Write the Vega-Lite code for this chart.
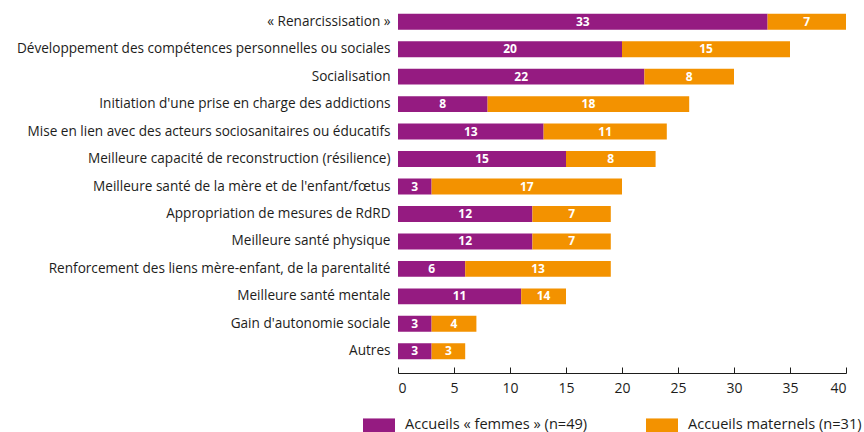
{
  "$schema": "https://vega.github.io/schema/vega-lite/v6.json",
  "autosize": "none",
  "width": 448,
  "height": 357,
  "padding": {"left": 398, "top": 8, "right": 18, "bottom": 67},
  "background": "white",
  "config": {"view": {"stroke": null}, "font": "Open Sans"},
  "data": {"values": [
    {"cat": "« Renarcissisation »", "type": "Accueils « femmes » (n=49)", "value": 33, "label": "33"},
    {"cat": "« Renarcissisation »", "type": "Accueils maternels (n=31)", "value": 7, "label": "7"},
    {"cat": "Développement des compétences personnelles ou sociales", "type": "Accueils « femmes » (n=49)", "value": 20, "label": "20"},
    {"cat": "Développement des compétences personnelles ou sociales", "type": "Accueils maternels (n=31)", "value": 15, "label": "15"},
    {"cat": "Socialisation", "type": "Accueils « femmes » (n=49)", "value": 22, "label": "22"},
    {"cat": "Socialisation", "type": "Accueils maternels (n=31)", "value": 8, "label": "8"},
    {"cat": "Initiation d'une prise en charge des addictions", "type": "Accueils « femmes » (n=49)", "value": 8, "label": "8"},
    {"cat": "Initiation d'une prise en charge des addictions", "type": "Accueils maternels (n=31)", "value": 18, "label": "18"},
    {"cat": "Mise en lien avec des acteurs sociosanitaires ou éducatifs", "type": "Accueils « femmes » (n=49)", "value": 13, "label": "13"},
    {"cat": "Mise en lien avec des acteurs sociosanitaires ou éducatifs", "type": "Accueils maternels (n=31)", "value": 11, "label": "11"},
    {"cat": "Meilleure capacité de reconstruction (résilience)", "type": "Accueils « femmes » (n=49)", "value": 15, "label": "15"},
    {"cat": "Meilleure capacité de reconstruction (résilience)", "type": "Accueils maternels (n=31)", "value": 8, "label": "8"},
    {"cat": "Meilleure santé de la mère et de l'enfant/fœtus", "type": "Accueils « femmes » (n=49)", "value": 3, "label": "3"},
    {"cat": "Meilleure santé de la mère et de l'enfant/fœtus", "type": "Accueils maternels (n=31)", "value": 17, "label": "17"},
    {"cat": "Appropriation de mesures de RdRD", "type": "Accueils « femmes » (n=49)", "value": 12, "label": "12"},
    {"cat": "Appropriation de mesures de RdRD", "type": "Accueils maternels (n=31)", "value": 7, "label": "7"},
    {"cat": "Meilleure santé physique", "type": "Accueils « femmes » (n=49)", "value": 12, "label": "12"},
    {"cat": "Meilleure santé physique", "type": "Accueils maternels (n=31)", "value": 7, "label": "7"},
    {"cat": "Renforcement des liens mère-enfant, de la parentalité", "type": "Accueils « femmes » (n=49)", "value": 6, "label": "6"},
    {"cat": "Renforcement des liens mère-enfant, de la parentalité", "type": "Accueils maternels (n=31)", "value": 13, "label": "13"},
    {"cat": "Meilleure santé mentale", "type": "Accueils « femmes » (n=49)", "value": 11, "label": "11"},
    {"cat": "Meilleure santé mentale", "type": "Accueils maternels (n=31)", "value": 4, "label": "14"},
    {"cat": "Gain d'autonomie sociale", "type": "Accueils « femmes » (n=49)", "value": 3, "label": "3"},
    {"cat": "Gain d'autonomie sociale", "type": "Accueils maternels (n=31)", "value": 4, "label": "4"},
    {"cat": "Autres", "type": "Accueils « femmes » (n=49)", "value": 3, "label": "3"},
    {"cat": "Autres", "type": "Accueils maternels (n=31)", "value": 3, "label": "3"}
  ]},
  "transform": [
    {"stack": "value", "groupby": ["cat"], "sort": [{"field": "type", "order": "descending"}], "as": ["v0", "v1"]},
    {"calculate": "(datum.v0 + datum.v1) / 2", "as": "mid"}
  ],
  "encoding": {
    "y": {
      "field": "cat", "type": "nominal", "sort": null,
      "scale": {"paddingInner": 0.42, "paddingOuter": 0.21},
      "axis": {"title": null, "domain": false, "ticks": false, "labelPadding": 8, "labelLimit": 400, "labelFontSize": 13.6, "labelColor": "#1d1d1b", "labelFont": "Open Sans"}
    }
  },
  "layer": [
    {
      "mark": {"type": "bar"},
      "encoding": {
        "x": {
          "field": "v0", "type": "quantitative",
          "scale": {"domain": [0, 40], "nice": false},
          "axis": {"title": null, "grid": false, "values": [0,5,10,15,20,25,30,35,40], "offset": 8, "tickSize": -6, "tickColor": "#1d1d1b", "domainColor": "#1d1d1b", "labelPadding": 14, "labelFontSize": 14, "labelColor": "#1d1d1b", "labelFont": "Open Sans"}
        },
        "x2": {"field": "v1"},
        "color": {
          "field": "type", "type": "nominal",
          "scale": {"domain": ["Accueils « femmes » (n=49)", "Accueils maternels (n=31)"], "range": ["#951b81", "#f39200"]},
          "legend": {
            "title": null, "orient": "none", "legendX": -36, "legendY": 400, "direction": "horizontal",
            "symbolType": "M-1,-0.44H1V0.44H-1Z", "symbolSize": 1024, "symbolOpacity": 1,
            "labelFontSize": 14.6, "labelColor": "#1d1d1b", "labelFont": "Open Sans", "labelOffset": 9,
            "columnPadding": 57, "labelLimit": 400
          }
        }
      }
    },
    {
      "mark": {"type": "text", "color": "white", "fontSize": 12, "fontWeight": "bold", "font": "Open Sans"},
      "encoding": {
        "x": {"field": "mid", "type": "quantitative"},
        "text": {"field": "label", "type": "nominal"}
      }
    }
  ]
}
